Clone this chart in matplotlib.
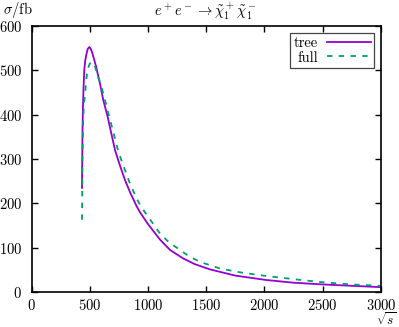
import matplotlib
matplotlib.use('Agg')
import matplotlib.pyplot as plt

plt.rcParams['font.family'] = 'cmr10'
plt.rcParams['mathtext.fontset'] = 'cm'
plt.rcParams['axes.formatter.use_mathtext'] = True
plt.rcParams['font.size'] = 10.5

# sqrt(s) and cross sections
tree_x = [432, 434, 436, 440, 445, 452, 460, 467, 480, 495, 508, 520, 535, 552, 570,
          587, 615, 650, 716, 760, 801, 850, 901, 930, 1000, 1100, 1188, 1300,
          1400, 1532, 1750, 2019, 2250, 2505, 2750, 3000]
tree_y = [235, 300, 360, 415, 460, 503, 522, 533, 548, 553, 549, 540, 526, 510, 489,
          470, 433, 398, 320, 284, 253, 222, 194, 180, 153, 119, 95, 76,
          63, 51, 37, 27, 21, 17, 14, 11]

full_x = [432, 434, 436, 440, 444, 449, 455, 461, 470, 480, 500, 523, 545, 567, 600,
          624, 644, 700, 744, 800, 844, 900, 936, 1000, 1102, 1180, 1274, 1350,
          1446, 1618, 1800, 1990, 2250, 2500, 2750, 3000]
full_y = [163, 230, 290, 360, 400, 424, 440, 454, 482, 503, 516, 519, 508, 488, 462,
          439, 418, 362, 317, 276, 245, 212, 194, 170, 132, 112, 95, 81,
          68, 53, 44, 37, 29, 22, 17, 14]

fig = plt.figure(figsize=(3.99, 3.27), dpi=100)
ax = fig.add_axes([0.0795, 0.107, 0.875, 0.813])

ax.plot(tree_x, tree_y, color='#9400D3', lw=1.3, label='tree')
ax.plot(full_x, full_y, color='#009E73', lw=1.3, dashes=(3, 3.5), label='full')

ax.set_xlim(0, 3000)
ax.set_ylim(0, 600)
ax.set_xticks(range(0, 3001, 500))
ax.set_yticks(range(0, 601, 100))
ax.tick_params(direction='in', length=4.5, width=1, top=True, right=True, pad=7)
ax.tick_params(axis='x', pad=4)
for s in ax.spines.values():
    s.set_linewidth(1.2)

leg = ax.legend(loc='upper right', markerfirst=False, frameon=True, fancybox=False,
                edgecolor='#444444', framealpha=1, handlelength=3.0, borderpad=0.25,
                labelspacing=0.05, handletextpad=0.6, borderaxespad=0.45)
leg.get_frame().set_linewidth(0.9)
# gnuplot style: labels right aligned against the samples
for col in leg._legend_handle_box.get_children():
    col.align = 'right'

fig.text(3 / 399, 1 - 10 / 327, r'$\sigma/\mathrm{fb}$', ha='left', va='center')
fig.text(206 / 399, 1 - 11 / 327, r'$e^+e^-\to\tilde{\chi}_1^+\tilde{\chi}_1^-$',
         ha='center', va='center')
fig.text(386 / 399, 1 - 320 / 327, r'$\sqrt{s}$', ha='center', va='center', fontsize=9.5)

fig.savefig('out.png', dpi=100)
